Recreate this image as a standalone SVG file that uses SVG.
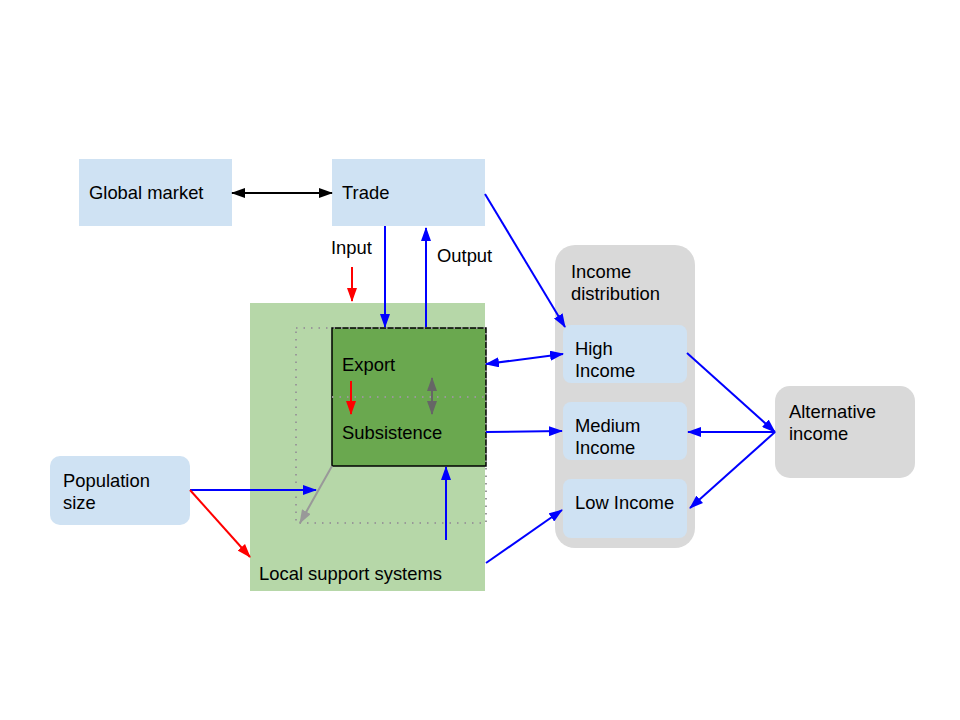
<svg xmlns="http://www.w3.org/2000/svg" width="960" height="720" viewBox="0 0 960 720">
<style>
text{font-family:"Liberation Sans",Arial,sans-serif;font-size:18.4px;fill:#000}
.lb{fill:#cfe2f3}
.gr{fill:#d9d9d9}
.b{stroke:#0000ff;stroke-width:2;fill:none}
.r{stroke:#ff0000;stroke-width:2;fill:none}
</style>
<defs>
<marker id="ab" markerUnits="userSpaceOnUse" markerWidth="14" markerHeight="10" refX="13" refY="5" orient="auto-start-reverse"><path d="M0,0 L14,5 L0,10 Z" fill="#0000ff"/></marker>
<marker id="ar" markerUnits="userSpaceOnUse" markerWidth="14" markerHeight="10" refX="13" refY="5" orient="auto-start-reverse"><path d="M0,0 L14,5 L0,10 Z" fill="#ff0000"/></marker>
<marker id="ak" markerUnits="userSpaceOnUse" markerWidth="14" markerHeight="10" refX="13" refY="5" orient="auto-start-reverse"><path d="M0,0 L14,5 L0,10 Z" fill="#000"/></marker>
<marker id="ag" markerUnits="userSpaceOnUse" markerWidth="14" markerHeight="10" refX="13" refY="5" orient="auto-start-reverse"><path d="M0,0 L14,5 L0,10 Z" fill="#666"/></marker>
<marker id="al" markerUnits="userSpaceOnUse" markerWidth="14" markerHeight="10" refX="13" refY="5" orient="auto-start-reverse"><path d="M0,0 L14,5 L0,10 Z" fill="#999"/></marker>
</defs>

<g id="global-market"><rect class="lb" x="79" y="159" width="153" height="67"/><text x="89" y="199">Global market</text></g>
<g id="trade"><rect class="lb" x="332" y="159" width="153" height="67"/><text x="342" y="199">Trade</text></g>

<g id="local-support"><rect fill="#b6d7a8" x="250" y="303" width="235" height="288"/><text x="259" y="580">Local support systems</text></g>
<g id="production">
<rect fill="#6aa84f" stroke="#000" stroke-width="1.5" x="332" y="328" width="154" height="138"/>
<rect fill="none" stroke="#999" stroke-width="2" stroke-dasharray="1.5,6" x="296" y="328" width="190" height="195"/>
<line x1="332" y1="397" x2="486" y2="397" stroke="#999" stroke-width="2" stroke-dasharray="1.5,6"/>
<text x="342" y="371">Export</text>
<text x="342" y="439">Subsistence</text>
</g>
<g id="income-distribution">
<rect class="gr" x="555" y="245" width="140" height="303" rx="20"/>
<text x="571" y="278">Income</text><text x="571" y="300">distribution</text>
</g>
<g id="high-income"><rect class="lb" x="563" y="325" width="124" height="58" rx="8"/><text x="575" y="355">High</text><text x="575" y="377">Income</text></g>
<g id="medium-income"><rect class="lb" x="563" y="402" width="124" height="58" rx="8"/><text x="575" y="432">Medium</text><text x="575" y="454">Income</text></g>
<g id="low-income"><rect class="lb" x="563" y="479" width="124" height="59" rx="8"/><text x="575" y="509">Low Income</text></g>
<g id="alternative-income"><rect class="gr" x="775" y="386" width="140" height="92" rx="15"/><text x="789" y="418">Alternative</text><text x="789" y="440">income</text></g>
<g id="population-size"><rect class="lb" x="50" y="456" width="140" height="69" rx="10"/><text x="63" y="487">Population</text><text x="63" y="509">size</text></g>

<g id="labels"><text x="331" y="254">Input</text><text x="437" y="262">Output</text></g>

<g id="connectors">
<line x1="232" y1="193" x2="332" y2="193" stroke="#000" stroke-width="2" marker-start="url(#ak)" marker-end="url(#ak)"/>
<line class="r" x1="352" y1="267" x2="352" y2="301" marker-end="url(#ar)"/>
<line class="b" x1="385" y1="226" x2="385" y2="327" marker-end="url(#ab)"/>
<line class="b" x1="426" y1="327" x2="426" y2="228" marker-end="url(#ab)"/>
<line class="b" x1="485" y1="194" x2="565" y2="327" marker-end="url(#ab)"/>
<line class="b" x1="486" y1="364" x2="563" y2="354" marker-start="url(#ab)" marker-end="url(#ab)"/>
<line class="b" x1="486" y1="432" x2="562" y2="431" marker-end="url(#ab)"/>
<line class="b" x1="486" y1="563" x2="562" y2="510" marker-end="url(#ab)"/>
<line class="b" x1="687" y1="353" x2="775" y2="432" marker-end="url(#ab)"/>
<line class="b" x1="688" y1="432" x2="775" y2="432" marker-start="url(#ab)"/>
<line class="b" x1="775" y1="432" x2="690" y2="508" marker-end="url(#ab)"/>
<line class="b" x1="190" y1="490" x2="316" y2="490" marker-end="url(#ab)"/>
<line class="r" x1="190" y1="490" x2="250" y2="557" marker-end="url(#ar)"/>
<line class="b" x1="446" y1="540" x2="446" y2="467" marker-end="url(#ab)"/>
<line class="r" x1="351" y1="381" x2="351" y2="414" marker-end="url(#ar)"/>
<line x1="432" y1="378" x2="432" y2="414" stroke="#666" stroke-width="2" marker-start="url(#ag)" marker-end="url(#ag)"/>
<line x1="332" y1="466" x2="300" y2="523" stroke="#999" stroke-width="2" marker-end="url(#al)"/>
</g>
</svg>
